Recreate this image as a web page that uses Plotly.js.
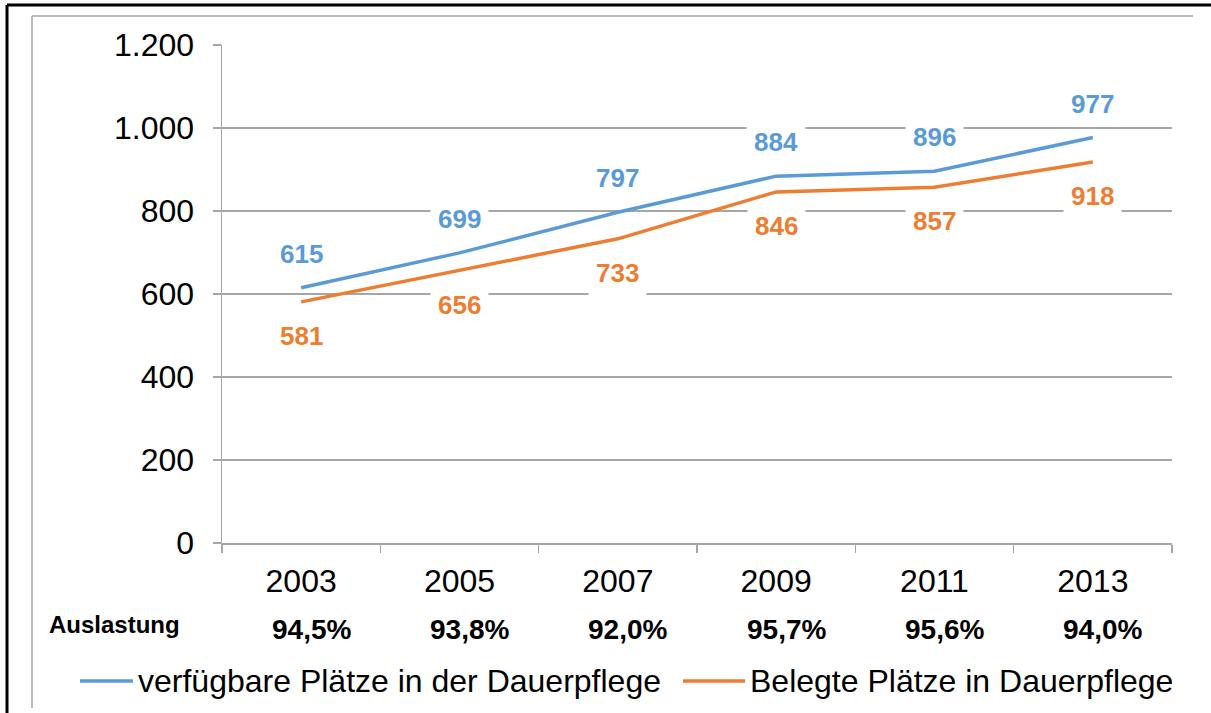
<!DOCTYPE html>
<html><head><meta charset="utf-8">
<script src="https://cdn.plot.ly/plotly-3.0.1.min.js"></script>
<style>html,body{margin:0;padding:0;background:#fff}#chart{width:1211px;height:713px}</style>
</head><body><div id="chart"></div>
<script>
const years = ['2003', '2005', '2007', '2009', '2011', '2013'];
const verfuegbar = [615, 699, 797, 884, 896, 977];
const belegt = [581, 656, 733, 846, 857, 918];
const auslastung = ['94,5%', '93,8%', '92,0%', '95,7%', '95,6%', '94,0%'];
const auslastungLabel = 'Auslastung';
const seriesNames = ['verfügbare Plätze in der Dauerpflege', 'Belegte Plätze in Dauerpflege'];

const W = 1211, H = 713;
const M = {l: 222, r: 39, t: 45, b: 170};
const PW = W - M.l - M.r, PH = H - M.t - M.b;
const px = x => (x - M.l) / PW;
const py = y => (H - M.b - y) / PH;

const BLUE = '#5B9BD5', ORANGE = '#ED7D31', GRID = '#A6A6A6';
const FONT = 'Arial, "Liberation Sans", sans-serif';

const traces = [
  {x: years, y: verfuegbar, name: seriesNames[0], type: 'scatter', mode: 'lines',
   line: {color: BLUE, width: 3.5}, showlegend: false, hoverinfo: 'skip'},
  {x: years, y: belegt, name: seriesNames[1], type: 'scatter', mode: 'lines',
   line: {color: ORANGE, width: 3.5}, showlegend: false, hoverinfo: 'skip'}
];

const annotations = [];
years.forEach((yr, i) => {
  annotations.push({x: i, y: verfuegbar[i], xref: 'x', yref: 'y', yshift: 34,
    xanchor: 'center', yanchor: 'middle',
    text: String(verfuegbar[i]), showarrow: false, bgcolor: '#fff', borderpad: 7,
    font: {family: FONT, size: 26, color: BLUE, weight: 'bold'}});
  annotations.push({x: i, y: belegt[i], xref: 'x', yref: 'y', yshift: -34,
    xanchor: 'center', yanchor: 'middle',
    text: String(belegt[i]), showarrow: false, bgcolor: '#fff', borderpad: 7,
    font: {family: FONT, size: 26, color: ORANGE, weight: 'bold'}});
  annotations.push({x: i, y: py(629), xref: 'x', yref: 'paper', xshift: 10,
    xanchor: 'center', yanchor: 'middle',
    text: auslastung[i], showarrow: false,
    font: {family: FONT, size: 28, color: '#000', weight: 'bold'}});
});
annotations.push({x: px(47), y: py(624), xref: 'paper', yref: 'paper',
  xanchor: 'left', yanchor: 'middle',
  text: auslastungLabel, showarrow: false,
  font: {family: FONT, size: 24, color: '#000', weight: 'bold'}});

// legend (custom, to match the long line samples)
const legendItems = [
  {x0: 80, x1: 133, tx: 136, color: BLUE, name: seriesNames[0]},
  {x0: 683, x1: 745, tx: 748, color: ORANGE, name: seriesNames[1]}
];
const shapes = [];
legendItems.forEach(it => {
  shapes.push({type: 'line', xref: 'paper', yref: 'paper', x0: px(it.x0), x1: px(it.x1),
    y0: py(681), y1: py(681), line: {color: it.color, width: 3.5}});
  annotations.push({x: px(it.tx), y: py(681), xref: 'paper', yref: 'paper',
    xanchor: 'left', yanchor: 'middle', text: it.name, showarrow: false,
    font: {family: FONT, size: 32, color: '#000'}});
});

// frame lines
shapes.push({type: 'line', xref: 'paper', yref: 'paper', x0: px(7), x1: px(1215), y0: py(5), y1: py(5), line: {color: '#000', width: 3}});
shapes.push({type: 'line', xref: 'paper', yref: 'paper', x0: px(7), x1: px(7), y0: py(5), y1: py(720), line: {color: '#000', width: 3}});
shapes.push({type: 'line', xref: 'paper', yref: 'paper', x0: px(32), x1: px(1193), y0: py(16), y1: py(16), line: {color: GRID, width: 1.5}});
shapes.push({type: 'line', xref: 'paper', yref: 'paper', x0: px(32), x1: px(32), y0: py(16), y1: py(708), line: {color: GRID, width: 1.5}});

const layout = {
  width: W, height: H, margin: M,
  paper_bgcolor: '#fff', plot_bgcolor: '#fff',
  separators: ',.',
  showlegend: false,
  font: {family: FONT, color: '#000'},
  xaxis: {type: 'category', range: [-0.5, years.length - 0.5], autorange: false,
    showgrid: false, showline: true, linecolor: GRID, linewidth: 1.5,
    ticks: 'outside', tickson: 'boundaries', ticklen: 8, tickcolor: GRID, tickwidth: 1.5,
    tickangle: 0,
    tickfont: {family: FONT, size: 32, color: '#000'}, ticklabelstandoff: 9, fixedrange: true},
  yaxis: {range: [0, 1200], autorange: false, dtick: 200, tickformat: ',d', showgrid: true, gridcolor: GRID, gridwidth: 1.5,
    showline: true, linecolor: GRID, linewidth: 1.5, zeroline: false,
    ticks: 'outside', ticklen: 8, tickcolor: GRID, tickwidth: 1.5,
    tickfont: {family: FONT, size: 32, color: '#000'}, ticklabelstandoff: 12, fixedrange: true},
  annotations: annotations,
  shapes: shapes
};

Plotly.newPlot('chart', traces, layout, {staticPlot: true, displayModeBar: false});
</script>
</body></html>
